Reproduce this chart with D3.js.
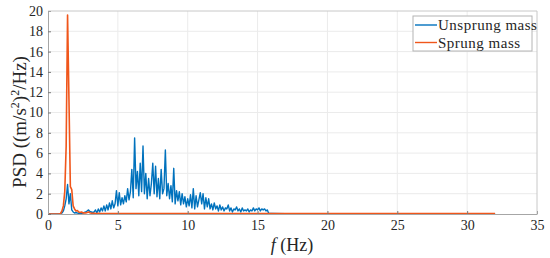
<!DOCTYPE html>
<html>
<head>
<meta charset="utf-8">
<script src="https://cdn.jsdelivr.net/npm/d3@7"></script>
<style>
  body { margin: 0; background: #fff; }
  text { font-family: "Palatino Linotype", "Book Antiqua", Palatino, "Liberation Serif", serif; fill: #262626; }
</style>
</head>
<body>
<div id="chart"></div>
<script>
// frequency grid (Hz), 0.1 Hz step up to 16 Hz
const freq = d3.range(0, 160.5).map(i => +(i / 10).toFixed(1));

// unsprung mass PSD, one value per freq step
const unsprung = [
  0, 0, 0, 0, 0, 0, 0, 0, 0.01, 0.03,
  0.1, 0.3, 0.8, 1.5, 2.9, 1.0, 2.0, 0.4, 0.2, 0.1,
  0.15, 0.1, 0.08, 0.1, 0.05, 0.1, 0.15, 0.2, 0.3, 0.4,
  0.25, 0.2, 0.15, 0.2, 0.4, 0.1, 0.5, 0.2, 0.6, 0.3,
  0.8, 0.3, 0.9, 0.4, 1.1, 0.5, 1.3, 0.6, 1.0, 2.3,
  0.8, 2.1, 0.9, 1.6, 1.0, 1.8, 1.2, 2.5, 1.4, 2.2,
  4.4, 1.6, 7.5, 2.5, 4.2, 1.8, 5.0, 2.2, 6.7, 2.0,
  4.0, 1.5, 3.5, 1.8, 3.0, 5.0, 2.0, 4.7, 1.7, 3.5,
  1.5, 4.4, 2.0, 2.5, 6.3, 1.8, 3.0, 1.5, 2.8, 1.2,
  4.5, 1.0, 2.3, 1.3, 2.2, 0.9, 2.0, 1.0, 1.7, 0.7,
  1.5, 0.8, 1.9, 0.6, 2.5, 0.5, 1.8, 0.7, 1.4, 2.1,
  1.0, 2.0, 0.5, 1.6, 0.7, 1.5, 0.5, 1.0, 0.4, 1.1,
  0.5, 0.8, 0.3, 0.9, 0.4, 0.7, 0.3, 0.6, 0.5, 0.9,
  0.3, 0.6, 0.2, 0.5, 0.4, 0.7, 0.3, 0.5, 0.2, 0.6,
  0.3, 0.4, 0.3, 0.5, 0.2, 0.4, 0.3, 0.6, 0.3, 0.5,
  0.4, 0.6, 0.3, 0.5, 0.4, 0.5, 0.3, 0.4, 0.05, 0.05,
  0.05
];

// sprung mass PSD, one value per freq step
const sprung = [
  0, 0, 0, 0, 0, 0, 0, 0, 0.02, 0.05,
  0.3, 0.8, 2.2, 6.7, 19.6, 11.3, 2.7, 2.4, 0.8, 0.5,
  0.3, 0.35, 0.2, 0.15, 0.2, 0.1, 0.12, 0.1, 0.15, 0.2,
  0.12, 0.08, 0.06, 0.08, 0.06, 0.05, 0.06, 0.05, 0.05, 0.05,
  0.05, 0.05, 0.05, 0.05, 0.05, 0.05, 0.05, 0.05, 0.05, 0.05,
  0.05, 0.05, 0.05, 0.05, 0.05, 0.05, 0.05, 0.05, 0.05, 0.05,
  0.05, 0.05, 0.05, 0.05, 0.05, 0.05, 0.05, 0.05, 0.05, 0.05,
  0.05, 0.05, 0.05, 0.05, 0.05, 0.05, 0.05, 0.05, 0.05, 0.05,
  0.05, 0.05, 0.05, 0.05, 0.05, 0.05, 0.05, 0.05, 0.05, 0.05,
  0.05, 0.05, 0.05, 0.05, 0.05, 0.05, 0.05, 0.05, 0.05, 0.05,
  0.05, 0.05, 0.05, 0.05, 0.05, 0.05, 0.05, 0.05, 0.05, 0.05,
  0.05, 0.05, 0.05, 0.05, 0.05, 0.05, 0.05, 0.05, 0.05, 0.05,
  0.05, 0.05, 0.05, 0.05, 0.05, 0.05, 0.05, 0.05, 0.05, 0.05,
  0.05, 0.05, 0.05, 0.05, 0.05, 0.05, 0.05, 0.05, 0.05, 0.05,
  0.05, 0.05, 0.05, 0.05, 0.05, 0.05, 0.05, 0.05, 0.05, 0.05,
  0.05, 0.05, 0.05, 0.05, 0.05, 0.05, 0.05, 0.05, 0.05, 0.05,
  0.05
];

// beyond 16 Hz both spectra are flat near zero
const tailFreq = [17, 20, 25, 32];
const unsprungTail = [0.04, 0.02, 0.02, 0.02];
const sprungTail = [0.05, 0.05, 0.05, 0.05];

const xTicks = [0, 5, 10, 15, 20, 25, 30, 35];
const yTicks = [0, 2, 4, 6, 8, 10, 12, 14, 16, 18, 20];

const width = 550, height = 258;
const margin = { top: 11, right: 13, bottom: 44, left: 48 };
const iw = width - margin.left - margin.right;
const ih = height - margin.top - margin.bottom;

const svg = d3.select('#chart').append('svg')
    .attr('width', width)
    .attr('height', height);

const g = svg.append('g').attr('transform', `translate(${margin.left},${margin.top})`);

const x = d3.scaleLinear().domain([0, 35]).range([0, iw]);
const y = d3.scaleLinear().domain([0, 20]).range([ih, 0]);

// grid
g.append('g').selectAll('line')
    .data(xTicks.slice(1, -1))
    .enter().append('line')
    .attr('x1', d => x(d)).attr('x2', d => x(d))
    .attr('y1', 0).attr('y2', ih)
    .attr('stroke', '#ebebeb');
g.append('g').selectAll('line')
    .data(yTicks.slice(1, -1))
    .enter().append('line')
    .attr('x1', 0).attr('x2', iw)
    .attr('y1', d => y(d)).attr('y2', d => y(d))
    .attr('stroke', '#ebebeb');

const line = d3.line().x(d => x(d[0])).y(d => y(d[1]));

const uData = freq.map((f, i) => [f, unsprung[i]]).concat(tailFreq.map((f, i) => [f, unsprungTail[i]]));
const sData = freq.map((f, i) => [f, sprung[i]]).concat(tailFreq.map((f, i) => [f, sprungTail[i]]));

g.append('path').datum(uData)
    .attr('d', line)
    .attr('fill', 'none')
    .attr('stroke', '#0072BD')
    .attr('stroke-width', 1.4)
    .attr('stroke-linejoin', 'round');

g.append('path').datum(sData)
    .attr('d', line)
    .attr('fill', 'none')
    .attr('stroke', '#F0561B')
    .attr('stroke-width', 1.6)
    .attr('stroke-linejoin', 'round');

// axes
const xAxis = g.append('g').attr('transform', `translate(0,${ih})`)
    .call(d3.axisBottom(x).tickValues(xTicks).tickSizeInner(-3).tickSizeOuter(0).tickPadding(6));
const yAxis = g.append('g')
    .call(d3.axisLeft(y).tickValues(yTicks).tickSizeInner(-3).tickSizeOuter(0).tickPadding(5));
[xAxis, yAxis].forEach(a => {
    a.attr('font-family', null).attr('font-size', null);
    a.select('.domain').attr('stroke', '#a6a6a6');
    a.selectAll('.tick line').attr('stroke', '#7a7a7a');
    a.selectAll('.tick text').style('font-size', '14px');
});

// box top/right
g.append('line').attr('x1', 0).attr('x2', iw).attr('y1', 0).attr('y2', 0).attr('stroke', '#c8c8c8');
g.append('line').attr('x1', iw).attr('x2', iw).attr('y1', 0).attr('y2', ih).attr('stroke', '#c8c8c8');

// axis labels
const xl = svg.append('text')
    .attr('x', 292)
    .attr('y', 251)
    .attr('text-anchor', 'middle')
    .style('font-size', '18px');
xl.append('tspan').style('font-style', 'italic').text('f');
xl.append('tspan').text(' (Hz)');

const yl = svg.append('text')
    .attr('transform', 'translate(26,122) rotate(-90)')
    .attr('text-anchor', 'middle')
    .style('font-size', '19px');
yl.append('tspan').text('PSD ((m/s');
yl.append('tspan').attr('dy', -7).style('font-size', '12px').text('2');
yl.append('tspan').attr('dy', 7).text(')');
yl.append('tspan').attr('dy', -7).style('font-size', '12px').text('2');
yl.append('tspan').attr('dy', 7).text('/Hz)');

// legend
const legend = svg.append('g').attr('transform', 'translate(413,16)');
legend.append('rect')
    .attr('width', 119).attr('height', 35)
    .attr('fill', '#fff').attr('stroke', '#b4b4b4');
const entries = [['Unsprung mass', '#0072BD'], ['Sprung mass', '#F0561B']];
entries.forEach((e, i) => {
    const yy = 9 + i * 17.5;
    legend.append('line')
        .attr('x1', 2).attr('x2', 24)
        .attr('y1', yy).attr('y2', yy)
        .attr('stroke', e[1]).attr('stroke-width', 1.4);
    legend.append('text')
        .attr('x', 25).attr('y', yy + 5)
        .style('font-size', '15px')
        .style('letter-spacing', '0.5px')
        .text(e[0]);
});
</script>
</body>
</html>
